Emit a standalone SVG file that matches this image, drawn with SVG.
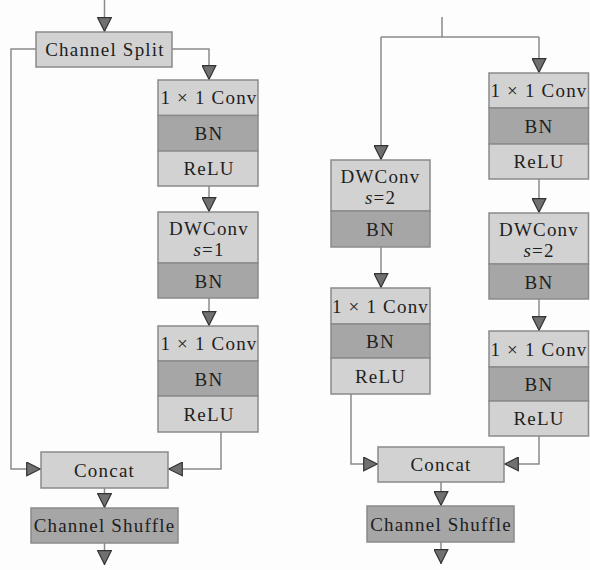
<svg xmlns="http://www.w3.org/2000/svg" width="590" height="570" viewBox="0 0 590 570">
<style>
.bg{fill:#fdfdfd}
.l{fill:#d2d2d2;stroke:#8a8a8a;stroke-width:1.5}
.d{fill:#a6a6a6;stroke:#8a8a8a;stroke-width:1.5}
.c{fill:none;stroke:#8a8a8a;stroke-width:1.5}
text{font-family:"Liberation Serif","Times New Roman",serif;font-size:19px;fill:#1e1e1e;text-anchor:middle;letter-spacing:1.2px}
.i{font-style:italic}
</style>
<defs>
<marker id="ah" viewBox="0 0 15 15" refX="15" refY="7.5" markerWidth="15" markerHeight="15" markerUnits="userSpaceOnUse" orient="auto">
<path d="M0.7,0.7 L14.3,7.5 L0.7,14.3 Z" fill="#707070" stroke="#333" stroke-width="1.2"/>
</marker>
</defs>
<rect class="bg" x="0" y="0" width="590" height="570"/>
<g id="connectors">
<path class="c" d="M104.5,0 V32" marker-end="url(#ah)"/>
<path class="c" d="M172,49 H209 V80" marker-end="url(#ah)"/>
<path class="c" d="M36,49 H11 V469 H41" marker-end="url(#ah)"/>
<path class="c" d="M209,186 V212" marker-end="url(#ah)"/>
<path class="c" d="M209,298 V326" marker-end="url(#ah)"/>
<path class="c" d="M221,432 V469 H168" marker-end="url(#ah)"/>
<path class="c" d="M104.5,488 V508" marker-end="url(#ah)"/>
<path class="c" d="M104.5,543 V565" marker-end="url(#ah)"/>
<path class="c" d="M442,17 V37 M381,37 H539"/>
<path class="c" d="M381,37 V160" marker-end="url(#ah)"/>
<path class="c" d="M539,37 V73" marker-end="url(#ah)"/>
<path class="c" d="M539,179 V213" marker-end="url(#ah)"/>
<path class="c" d="M539,299 V331" marker-end="url(#ah)"/>
<path class="c" d="M539,436 V464 H504" marker-end="url(#ah)"/>
<path class="c" d="M381,247 V288" marker-end="url(#ah)"/>
<path class="c" d="M351,394 V464 H378" marker-end="url(#ah)"/>
<path class="c" d="M441,482 V506" marker-end="url(#ah)"/>
<path class="c" d="M441,542 V564" marker-end="url(#ah)"/>
</g>
<g id="channel-split">
<rect class="l" x="36" y="32" width="136" height="35"/>
<text x="105" y="55.5">Channel Split</text>
</g>
<g id="l-block1">
<rect class="l" x="158" y="80" width="100" height="35.5"/>
<rect class="d" x="158" y="115.5" width="100" height="35.5"/>
<rect class="l" x="158" y="151" width="100" height="35"/>
<text x="209" y="104">1 × 1 Conv</text>
<text x="209" y="140">BN</text>
<text x="209" y="175">ReLU</text>
</g>
<g id="l-block2">
<rect class="l" x="158" y="212" width="100" height="51"/>
<rect class="d" x="158" y="263" width="100" height="35"/>
<text x="209" y="235">DWConv</text>
<text x="209" y="256"><tspan class="i">s</tspan>=1</text>
<text x="209" y="287.5">BN</text>
</g>
<g id="l-block3">
<rect class="l" x="158" y="326" width="100" height="35"/>
<rect class="d" x="158" y="361" width="100" height="35"/>
<rect class="l" x="158" y="396" width="100" height="36"/>
<text x="209" y="350">1 × 1 Conv</text>
<text x="209" y="385.5">BN</text>
<text x="209" y="421">ReLU</text>
</g>
<g id="l-concat">
<rect class="l" x="41" y="452" width="127" height="36"/>
<text x="104.5" y="476.5">Concat</text>
</g>
<g id="l-shuffle">
<rect class="d" x="31" y="508" width="147" height="35"/>
<text x="104.5" y="532">Channel Shuffle</text>
</g>
<g id="r-block-a">
<rect class="l" x="489" y="73" width="99.5" height="35"/>
<rect class="d" x="489" y="108" width="99.5" height="36"/>
<rect class="l" x="489" y="144" width="99.5" height="35"/>
<text x="539" y="97">1 × 1 Conv</text>
<text x="539" y="132.5">BN</text>
<text x="539" y="168">ReLU</text>
</g>
<g id="r-block-b">
<rect class="l" x="489" y="213" width="99.5" height="51"/>
<rect class="d" x="489" y="264" width="99.5" height="35"/>
<text x="539" y="236">DWConv</text>
<text x="539" y="257"><tspan class="i">s</tspan>=2</text>
<text x="539" y="288.5">BN</text>
</g>
<g id="r-block-c">
<rect class="l" x="489" y="331" width="99.5" height="36"/>
<rect class="d" x="489" y="367" width="99.5" height="34"/>
<rect class="l" x="489" y="401" width="99.5" height="35"/>
<text x="539" y="355.5">1 × 1 Conv</text>
<text x="539" y="390.5">BN</text>
<text x="539" y="425">ReLU</text>
</g>
<g id="r-block-d">
<rect class="l" x="331" y="160" width="99" height="51"/>
<rect class="d" x="331" y="211" width="99" height="36"/>
<text x="380.5" y="183">DWConv</text>
<text x="380.5" y="204"><tspan class="i">s</tspan>=2</text>
<text x="380.5" y="235.5">BN</text>
</g>
<g id="r-block-e">
<rect class="l" x="331" y="288" width="99" height="36"/>
<rect class="d" x="331" y="324" width="99" height="34"/>
<rect class="l" x="331" y="358" width="99" height="36"/>
<text x="380.5" y="312.5">1 × 1 Conv</text>
<text x="380.5" y="347.5">BN</text>
<text x="380.5" y="382.5">ReLU</text>
</g>
<g id="r-concat">
<rect class="l" x="378" y="447" width="126" height="35"/>
<text x="441" y="471">Concat</text>
</g>
<g id="r-shuffle">
<rect class="d" x="367" y="506" width="147" height="36"/>
<text x="441" y="530.5">Channel Shuffle</text>
</g>
</svg>
